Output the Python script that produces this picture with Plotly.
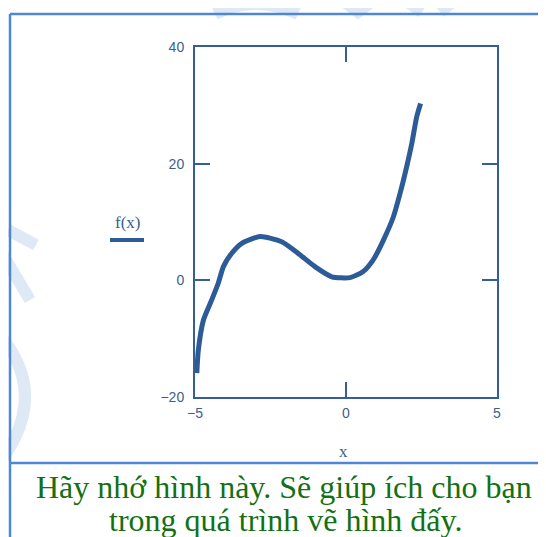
import plotly.graph_objects as go

x_vals = [-4.94, -4.89, -4.72, -4.45, -4.23, -4.06, -3.79, -3.45, -2.85, -2.13,
          -1.58, -1.03, -0.47, 0.13, 0.57, 0.90, 1.24, 1.57, 1.79, 2.01, 2.18, 2.34, 2.47]
f_vals = [-15.9, -12.0, -6.8, -3.4, -0.5, 2.35, 4.6, 6.35, 7.5, 6.6,
          4.6, 2.35, 0.6, 0.46, 1.5, 3.5, 6.9, 10.9, 14.9, 19.5, 23.5, 28.0, 30.3]

x_ticks = [-5, 0, 5]
y_ticks = [-20, 0, 20, 40]

caption_1 = "Hãy nhớ hình này. Sẽ giúp ích cho bạn"
caption_2 = "trong quá trình vẽ hình đấy."

# page body has an 8px margin, so work in page pixels and shift
OFF = 8
W, H = 546 - OFF, 537 - OFF
L, R, T, B = 195, 497, 47, 397   # plot box in page pixels

def px(x):
    return (x - L) / (R - L)

def py(y):
    return (B - y) / (B - T)

def path(cmds):
    # cmds: list of (letter, [(x,y),...]) in page pixels -> paper path string
    s = ""
    for c, pts in cmds:
        s += c + " " + " ".join("%.4f,%.4f" % (px(a), py(b)) for a, b in pts) + " "
    return s

axis_col = "#355f94"
line_col = "#2c5b97"
frame_col = "#4f87d4"
text_col = "#3c5e8e"
mark_col = "#dfe9f6"

fig = go.Figure()
fig.add_trace(go.Scatter(x=x_vals, y=f_vals, mode="lines",
                         line=dict(color=line_col, width=5, shape="spline", smoothing=0.6),
                         showlegend=False))

ax = dict(showgrid=False, zeroline=False, showline=True, mirror="ticks",
          linecolor=axis_col, linewidth=2, ticks="inside", ticklen=15,
          tickcolor=axis_col, tickwidth=2,
          tickfont=dict(family="Arial", size=14, color=text_col))
fig.update_xaxes(range=[-5, 5], tickvals=x_ticks, ticklabelstandoff=2, **ax)
fig.update_yaxes(range=[-20, 40], tickvals=y_ticks, ticklabelstandoff=6, **ax)

shapes = []
# faint watermark marks behind everything
wm = [
    [("M", [(0, 335)]), ("Q", [(50, 395), (0, 462)])],
    [("M", [(0, 250)]), ("L", [(30, 300)])],
    [("M", [(8, 230)]), ("L", [(36, 245)])],
    [("M", [(215, 14)]), ("Q", [(255, -6), (298, 14)])],
    [("M", [(342, 0)]), ("L", [(358, 12)]), ("L", [(374, 0)])],
    [("M", [(455, 0)]), ("L", [(440, 12)])],
    [("M", [(405, 0)]), ("L", [(422, 12)])],
]
for p in wm:
    shapes.append(dict(type="path", xref="paper", yref="paper", path=path(p),
                       line=dict(color=mark_col, width=12), layer="below"))
# outer frame lines
shapes.append(dict(type="line", xref="paper", yref="paper", x0=px(10), x1=px(560),
                   y0=py(14), y1=py(14), line=dict(color=frame_col, width=2.5)))
shapes.append(dict(type="line", xref="paper", yref="paper", x0=px(10), x1=px(10),
                   y0=py(14), y1=py(545), line=dict(color=frame_col, width=2.5)))
shapes.append(dict(type="line", xref="paper", yref="paper", x0=px(10), x1=px(560),
                   y0=py(463), y1=py(463), line=dict(color=frame_col, width=2.5)))
# legend sample under f(x)
shapes.append(dict(type="line", xref="paper", yref="paper", x0=px(110), x1=px(144),
                   y0=py(240), y1=py(240), line=dict(color=line_col, width=4)))

annotations = [
    dict(text="f(x)", x=px(127), y=py(222), xref="paper", yref="paper", showarrow=False,
         xanchor="center", yanchor="middle",
         font=dict(family="Liberation Serif", size=17, color=text_col)),
    dict(text="x", x=px(343), y=py(452), xref="paper", yref="paper", showarrow=False,
         xanchor="center", yanchor="middle",
         font=dict(family="Liberation Serif", size=17, color=text_col)),
    dict(text=caption_1, x=px(284), y=py(487), xref="paper", yref="paper", showarrow=False,
         xanchor="center", yanchor="middle",
         font=dict(family="Liberation Serif", size=32, color="#137013")),
    dict(text=caption_2, x=px(285), y=py(520), xref="paper", yref="paper", showarrow=False,
         xanchor="center", yanchor="middle",
         font=dict(family="Liberation Serif", size=32, color="#137013")),
]

fig.update_layout(width=W, height=H,
                  margin=dict(l=L - OFF, r=W + OFF - R, t=T - OFF, b=H + OFF - B),
                  paper_bgcolor="rgba(0,0,0,0)", plot_bgcolor="white",
                  shapes=shapes, annotations=annotations)

fig.write_html("out.html")
